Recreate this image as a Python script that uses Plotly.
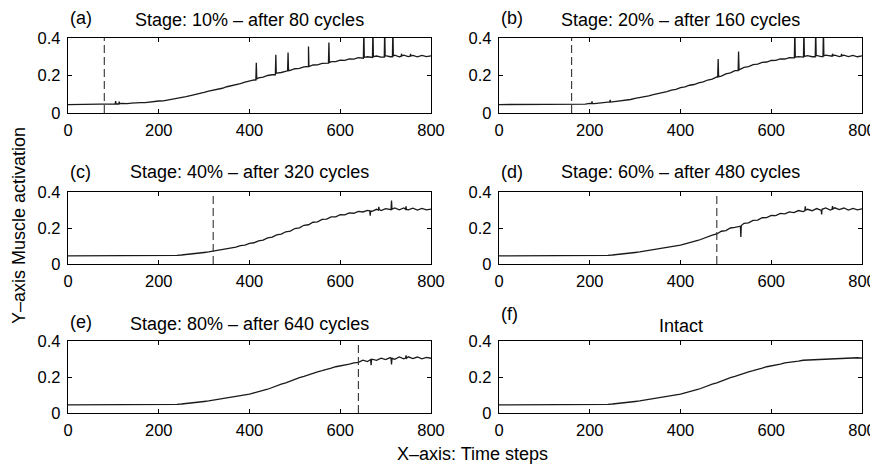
import plotly.graph_objects as go

# time axis sampled every 10 steps
time_steps = list(range(0, 801, 10))

# muscle activation per stage
act_a = [0.045, 0.045, 0.045, 0.045, 0.045, 0.045, 0.045, 0.045, 0.045, 0.047,
         0.049, 0.048, 0.051, 0.050, 0.053, 0.052, 0.055, 0.055, 0.059, 0.060,
         0.064, 0.065, 0.069, 0.071, 0.076, 0.082, 0.087, 0.093, 0.098, 0.105,
         0.110, 0.117, 0.121, 0.128, 0.132, 0.140, 0.145, 0.152, 0.157, 0.165,
         0.172, 0.177, 0.187, 0.191, 0.200, 0.204, 0.213, 0.216, 0.225, 0.228,
         0.236, 0.238, 0.246, 0.248, 0.256, 0.257, 0.265, 0.266, 0.274, 0.274,
         0.282, 0.281, 0.289, 0.287, 0.295, 0.292, 0.300, 0.296, 0.304, 0.298,
         0.306, 0.300, 0.308, 0.300, 0.308, 0.301, 0.307, 0.300, 0.307, 0.301,
         0.305]
act_b = [0.045, 0.045, 0.045, 0.045, 0.045, 0.045, 0.045, 0.045, 0.045, 0.045,
         0.045, 0.045, 0.045, 0.045, 0.045, 0.045, 0.045, 0.046, 0.048, 0.047,
         0.051, 0.050, 0.054, 0.054, 0.058, 0.059, 0.063, 0.065, 0.070, 0.072,
         0.078, 0.081, 0.087, 0.091, 0.098, 0.102, 0.110, 0.114, 0.122, 0.126,
         0.135, 0.139, 0.148, 0.152, 0.161, 0.166, 0.176, 0.181, 0.192, 0.197,
         0.209, 0.214, 0.226, 0.231, 0.243, 0.247, 0.258, 0.261, 0.270, 0.272,
         0.280, 0.281, 0.288, 0.288, 0.295, 0.294, 0.301, 0.298, 0.306, 0.300,
         0.307, 0.301, 0.309, 0.302, 0.309, 0.301, 0.308, 0.301, 0.307, 0.300,
         0.305]
act_c = [0.045, 0.045, 0.045, 0.045, 0.045, 0.045, 0.045, 0.045, 0.045, 0.045,
         0.045, 0.045, 0.045, 0.045, 0.045, 0.045, 0.045, 0.045, 0.045, 0.045,
         0.045, 0.045, 0.046, 0.047, 0.048, 0.050, 0.052, 0.054, 0.057, 0.060,
         0.064, 0.067, 0.071, 0.075, 0.081, 0.084, 0.091, 0.094, 0.102, 0.105,
         0.114, 0.118, 0.129, 0.133, 0.145, 0.149, 0.162, 0.166, 0.179, 0.183,
         0.197, 0.201, 0.215, 0.218, 0.232, 0.234, 0.248, 0.249, 0.262, 0.262,
         0.274, 0.273, 0.284, 0.282, 0.292, 0.289, 0.298, 0.293, 0.304, 0.297,
         0.308, 0.300, 0.311, 0.301, 0.311, 0.301, 0.310, 0.300, 0.309, 0.301,
         0.305]
act_d = [0.045, 0.045, 0.045, 0.045, 0.045, 0.045, 0.045, 0.045, 0.045, 0.045,
         0.045, 0.045, 0.045, 0.045, 0.045, 0.045, 0.045, 0.045, 0.045, 0.045,
         0.045, 0.045, 0.046, 0.047, 0.048, 0.050, 0.052, 0.054, 0.057, 0.060,
         0.064, 0.067, 0.071, 0.074, 0.078, 0.082, 0.086, 0.090, 0.095, 0.100,
         0.105, 0.112, 0.117, 0.126, 0.132, 0.142, 0.149, 0.160, 0.167, 0.182,
         0.186, 0.200, 0.203, 0.212, 0.226, 0.229, 0.242, 0.244, 0.257, 0.258,
         0.270, 0.269, 0.281, 0.279, 0.290, 0.286, 0.297, 0.291, 0.304, 0.296,
         0.308, 0.298, 0.312, 0.300, 0.312, 0.302, 0.311, 0.300, 0.309, 0.301,
         0.306]
act_e = [0.045, 0.045, 0.045, 0.045, 0.045, 0.045, 0.045, 0.045, 0.045, 0.045,
         0.045, 0.045, 0.045, 0.045, 0.045, 0.045, 0.045, 0.045, 0.045, 0.045,
         0.045, 0.045, 0.046, 0.047, 0.048, 0.050, 0.052, 0.054, 0.057, 0.060,
         0.064, 0.067, 0.071, 0.074, 0.078, 0.082, 0.086, 0.090, 0.095, 0.100,
         0.105, 0.112, 0.117, 0.126, 0.132, 0.142, 0.149, 0.160, 0.167, 0.178,
         0.185, 0.196, 0.203, 0.213, 0.219, 0.229, 0.235, 0.244, 0.249, 0.257,
         0.261, 0.269, 0.272, 0.279, 0.281, 0.294, 0.286, 0.299, 0.293, 0.305,
         0.297, 0.308, 0.298, 0.311, 0.301, 0.312, 0.302, 0.311, 0.301, 0.309,
         0.304]
act_f = [0.045, 0.045, 0.045, 0.045, 0.045, 0.045, 0.045, 0.045, 0.045, 0.045,
         0.045, 0.045, 0.045, 0.045, 0.045, 0.045, 0.045, 0.045, 0.045, 0.045,
         0.045, 0.045, 0.046, 0.047, 0.048, 0.050, 0.052, 0.054, 0.057, 0.060,
         0.064, 0.067, 0.071, 0.074, 0.078, 0.082, 0.086, 0.090, 0.095, 0.100,
         0.105, 0.112, 0.117, 0.126, 0.132, 0.142, 0.149, 0.160, 0.167, 0.178,
         0.185, 0.196, 0.203, 0.213, 0.219, 0.229, 0.235, 0.244, 0.249, 0.257,
         0.261, 0.269, 0.272, 0.279, 0.281, 0.287, 0.288, 0.293, 0.294, 0.298,
         0.298, 0.301, 0.300, 0.303, 0.302, 0.305, 0.303, 0.306, 0.304, 0.307,
         0.305]

# sharp spikes and dips (x, activation) between the regular samples
spikes_a_x = [104, 105, 106, 112, 113, 114, 414, 415, 416, 457, 458, 459,
              484, 485, 486, 529, 530, 531, 574, 575, 576, 651, 652, 653,
              671, 672, 673, 697, 698, 699, 715, 716, 717, 734, 735, 736,
              754, 755, 756]
spikes_a_y = [0.049, 0.064, 0.048, 0.048, 0.060, 0.050, 0.176, 0.268, 0.182,
              0.204, 0.310, 0.211, 0.225, 0.322, 0.226, 0.248, 0.355, 0.248,
              0.266, 0.376, 0.268, 0.292, 0.45, 0.297, 0.296, 0.45, 0.300,
              0.298, 0.45, 0.302, 0.300, 0.45, 0.304, 0.302, 0.316, 0.305,
              0.303, 0.315, 0.304]
spikes_b_x = [204, 205, 206, 244, 245, 246, 482, 483, 484, 527, 528, 529,
              651, 652, 653, 671, 672, 673, 697, 698, 699, 714, 715, 716,
              734, 735, 736, 754, 755, 756]
spikes_b_y = [0.050, 0.062, 0.050, 0.058, 0.070, 0.058, 0.192, 0.288, 0.194,
              0.226, 0.328, 0.230, 0.294, 0.45, 0.298, 0.298, 0.45, 0.302,
              0.300, 0.45, 0.304, 0.301, 0.45, 0.305, 0.303, 0.316, 0.306,
              0.304, 0.315, 0.305]
spikes_c_x = [665, 666, 667, 684, 685, 686, 712, 713, 714, 744, 745, 746]
spikes_c_y = [0.296, 0.268, 0.294, 0.300, 0.318, 0.302, 0.302, 0.352, 0.304,
              0.304, 0.320, 0.303]
spikes_d_x = [532, 533, 534, 674, 675, 676, 710, 711, 712, 734, 735, 736]
spikes_d_y = [0.210, 0.150, 0.214, 0.296, 0.320, 0.300, 0.300, 0.275, 0.304,
              0.304, 0.322, 0.306]
spikes_e_x = [667, 668, 669, 712, 713, 714, 744, 745, 746]
spikes_e_y = [0.297, 0.266, 0.296, 0.302, 0.270, 0.304, 0.305, 0.320, 0.304]
spikes_f_x = []
spikes_f_y = []

onsets = [80, 160, 320, 480, 640, None]
tags = ['(a)', '(b)', '(c)', '(d)', '(e)', '(f)']
titles = ['Stage: 10% \u2013 after 80 cycles', 'Stage: 20% \u2013 after 160 cycles',
          'Stage: 40% \u2013 after 320 cycles', 'Stage: 60% \u2013 after 480 cycles',
          'Stage: 80% \u2013 after 640 cycles', 'Intact']
x_ticks = [0, 200, 400, 600, 800]
y_ticks = [0, 0.2, 0.4]
y_tick_text = ['0', '0.2', '0.4']

series = [(act_a, spikes_a_x, spikes_a_y), (act_b, spikes_b_x, spikes_b_y),
          (act_c, spikes_c_x, spikes_c_y), (act_d, spikes_d_x, spikes_d_y),
          (act_e, spikes_e_x, spikes_e_y), (act_f, spikes_f_x, spikes_f_y)]

FONT = 'Liberation Sans, Arial, Helvetica, sans-serif'
# the page body has an 8px margin, so the figure is drawn 8px in from the corner
OFF = 8
W, H = 878 - OFF, 466 - OFF

# panel boxes in window pixels: left, right / top, bottom
cols = [(68, 431), (499, 862)]
rows = [(38, 113), (192, 264), (341, 413)]
title_y = [20, 172, 324]
tag_y = [18, 172, 322]


def px(v):
    return (v - OFF) / W


def py(v):
    return 1 - (v - OFF) / H


fig = go.Figure()
layout = dict(
    width=W, height=H,
    margin=dict(l=0, r=0, t=0, b=0),
    paper_bgcolor='white', plot_bgcolor='white',
    showlegend=False,
    font=dict(family=FONT, color='black'),
    annotations=[],
)

for i, (act, sx, sy) in enumerate(series):
    r, c = divmod(i, 2)
    n = i + 1
    xa = 'x' if n == 1 else 'x%d' % n
    ya = 'y' if n == 1 else 'y%d' % n

    pts = sorted(zip(time_steps + sx, act + sy))
    fig.add_trace(go.Scatter(x=[p[0] for p in pts], y=[p[1] for p in pts],
                             mode='lines', line=dict(color='#1a1a1a', width=1.3),
                             xaxis=xa, yaxis=ya, hoverinfo='skip'))
    if onsets[i] is not None:
        fig.add_trace(go.Scatter(x=[onsets[i], onsets[i]], y=[0, 0.4],
                                 mode='lines',
                                 line=dict(color='#333333', width=1.1, dash='8px,4px'),
                                 xaxis=xa, yaxis=ya, hoverinfo='skip'))

    x0, x1 = cols[c]
    t0, t1 = rows[r]
    common = dict(showline=True, linecolor='black', linewidth=1.4, mirror='ticks',
                  ticks='inside', ticklen=4, tickwidth=1, tickcolor='black',
                  showgrid=False, zeroline=False, automargin=False,
                  tickfont=dict(family=FONT, size=16.5, color='black'))
    layout['xaxis' if n == 1 else 'xaxis%d' % n] = dict(
        common, domain=[px(x0), px(x1)], anchor=ya, range=[0, 800],
        tickvals=x_ticks, ticklabelstandoff=2)
    layout['yaxis' if n == 1 else 'yaxis%d' % n] = dict(
        common, domain=[py(t1), py(t0)], anchor=xa, range=[0, 0.4],
        tickvals=y_ticks, ticktext=y_tick_text, ticklabelstandoff=3)

    layout['annotations'].append(dict(
        text=titles[i], x=px((x0 + x1) / 2), y=py(title_y[r] + (2 if i == 5 else 0)),
        xref='paper', yref='paper', xanchor='center', yanchor='middle',
        showarrow=False, font=dict(family=FONT, size=18, color='black')))
    layout['annotations'].append(dict(
        text=tags[i], x=px(x0), y=py(tag_y[r] - (8 if i == 5 else 0)),
        xref='paper', yref='paper', xanchor='left', yanchor='middle',
        showarrow=False, font=dict(family=FONT, size=18, color='black')))

layout['annotations'].append(dict(
    text='Y\u2013axis Muscle activation', x=px(19), y=py(226),
    xref='paper', yref='paper', xanchor='center', yanchor='middle', textangle=-90,
    showarrow=False, font=dict(family=FONT, size=18, color='black')))
layout['annotations'].append(dict(
    text='X\u2013axis: Time steps', x=px(472), y=py(454),
    xref='paper', yref='paper', xanchor='center', yanchor='middle',
    showarrow=False, font=dict(family=FONT, size=18, color='black')))

fig.update_layout(**layout)
fig.write_html('out.html')
